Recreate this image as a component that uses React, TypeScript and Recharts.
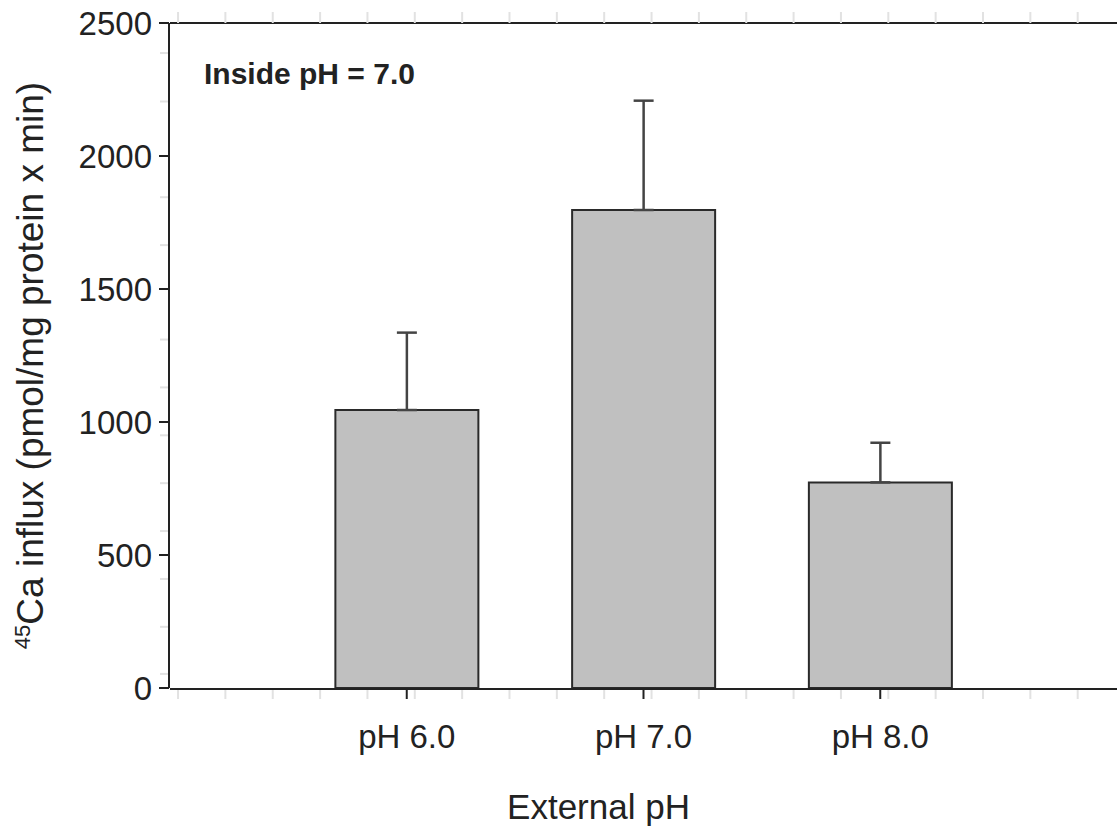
import React from 'react';
import { ComposedChart, Bar, Line, XAxis, YAxis, ErrorBar } from 'recharts';

const categories = ['pH 6.0', 'pH 7.0', 'pH 8.0'];
const influx = [1045, 1797, 773];
const errorsUp = [291, 411, 149];
const yTicks = [0, 500, 1000, 1500, 2000, 2500];
const minorXTicks = [0.034, 0.234, 0.434, 0.634, 0.834, 1.034, 1.234, 1.434, 1.634, 1.834, 2.034, 2.234, 2.434, 2.634, 2.834, 3.034, 3.234, 3.434, 3.634, 3.834];
const minorYTicks = [53, 230, 410, 590, 770, 950, 1130, 1310, 1665, 1845, 2205, 2387];

const data = categories.map((name, i) => ({
  pos: i + 1,
  name,
  value: influx[i],
  err: [0, errorsUp[i]],
}));

const FONT = '"Liberation Sans", Arial, sans-serif';
const faint = { stroke: '#e2e2e2', strokeWidth: 2 };
const dark = { stroke: '#222', strokeWidth: 2 };
const hiddenTick = { fontSize: 1, fill: 'none' };

export default function App() {
  return (
    <div style={{ position: 'absolute', left: 0, top: 0, fontFamily: FONT }}>
      <ComposedChart
        width={1117}
        height={830}
        data={data}
        margin={{ top: 22, right: 0, bottom: 0, left: 0 }}
      >
        <XAxis
          xAxisId="a_minorBottom"
          dataKey="pos"
          type="number"
          domain={[0, 4]}
          ticks={minorXTicks}
          height={1}
          axisLine={false}
          tickLine={faint}
          tickSize={11}
          tick={hiddenTick}
          tickFormatter={() => ''}
          allowDataOverflow
        />
        <XAxis
          xAxisId="a_top"
          dataKey="pos"
          orientation="top"
          type="number"
          domain={[0, 4]}
          ticks={minorXTicks}
          height={1}
          axisLine={dark}
          tickLine={faint}
          tickSize={11}
          tick={hiddenTick}
          tickFormatter={() => ''}
          allowDataOverflow
          label={{
            content: (props: any) => {
              const vb = props.viewBox || { x: 170, y: 23 };
              return (
                <text x={vb.x + 34} y={vb.y + 62} fontFamily={FONT} fontSize={30} fontWeight="bold" fill="#222">
                  Inside pH = 7.0
                </text>
              );
            },
          }}
        />
        <XAxis
          xAxisId="z_main"
          dataKey="pos"
          type="number"
          domain={[0, 4]}
          ticks={[1, 2, 3]}
          tickFormatter={(v: number) => categories[v - 1] ?? ''}
          height={141}
          axisLine={dark}
          tickLine={dark}
          tickSize={10}
          tickMargin={26}
          tick={{ fontSize: 33, fill: '#222', fontFamily: FONT }}
          allowDataOverflow
          label={{
            content: (props: any) => {
              const vb = props.viewBox || { x: 170, y: 688, width: 947 };
              return (
                <text x={vb.x + vb.width / 2 - 45} y={vb.y + 130} textAnchor="middle" fontFamily={FONT} fontSize={35} fill="#222">
                  External pH
                </text>
              );
            },
          }}
        />
        <YAxis
          yAxisId="a_minorY"
          type="number"
          domain={[0, 2500]}
          ticks={minorYTicks}
          width={1}
          axisLine={false}
          tickLine={faint}
          tickSize={10}
          tick={hiddenTick}
          tickFormatter={() => ''}
          allowDataOverflow
        />
        <YAxis
          yAxisId="z_mainY"
          type="number"
          domain={[0, 2500]}
          ticks={yTicks}
          width={169}
          axisLine={dark}
          tickLine={dark}
          tickSize={10}
          tickMargin={7}
          tick={{ fontSize: 33, fill: '#222', fontFamily: FONT }}
          allowDataOverflow
          label={{
            content: (props: any) => {
              const vb = props.viewBox || { x: 0, y: 23, width: 170, height: 665 };
              const cx = vb.x + 43;
              const cy = vb.y + vb.height / 2 + 10;
              return (
                <text
                  x={cx}
                  y={cy}
                  transform={`rotate(-90 ${cx} ${cy})`}
                  textAnchor="middle"
                  fontFamily={FONT}
                  fontSize={37}
                  fill="#222"
                >
                  <tspan fontSize={22} dy={-13}>45</tspan>
                  <tspan dy={13}>Ca influx (pmol/mg protein x min)</tspan>
                </text>
              );
            },
          }}
        />
        <Line
          xAxisId="a_top"
          yAxisId="a_minorY"
          dataKey="value"
          stroke="none"
          dot={false}
          activeDot={false}
          legendType="none"
          isAnimationActive={false}
        />
        <Line
          xAxisId="a_minorBottom"
          yAxisId="a_minorY"
          dataKey="value"
          stroke="none"
          dot={false}
          activeDot={false}
          legendType="none"
          isAnimationActive={false}
        />
        <Bar
          xAxisId="z_main"
          yAxisId="z_mainY"
          dataKey="value"
          fill="#c0c0c0"
          stroke="#2a2a2a"
          strokeWidth={2}
          barSize={143}
          isAnimationActive={false}
        >
          <ErrorBar dataKey="err" width={10} stroke="#444" strokeWidth={2.5} direction="y" />
        </Bar>
      </ComposedChart>
    </div>
  );
}
